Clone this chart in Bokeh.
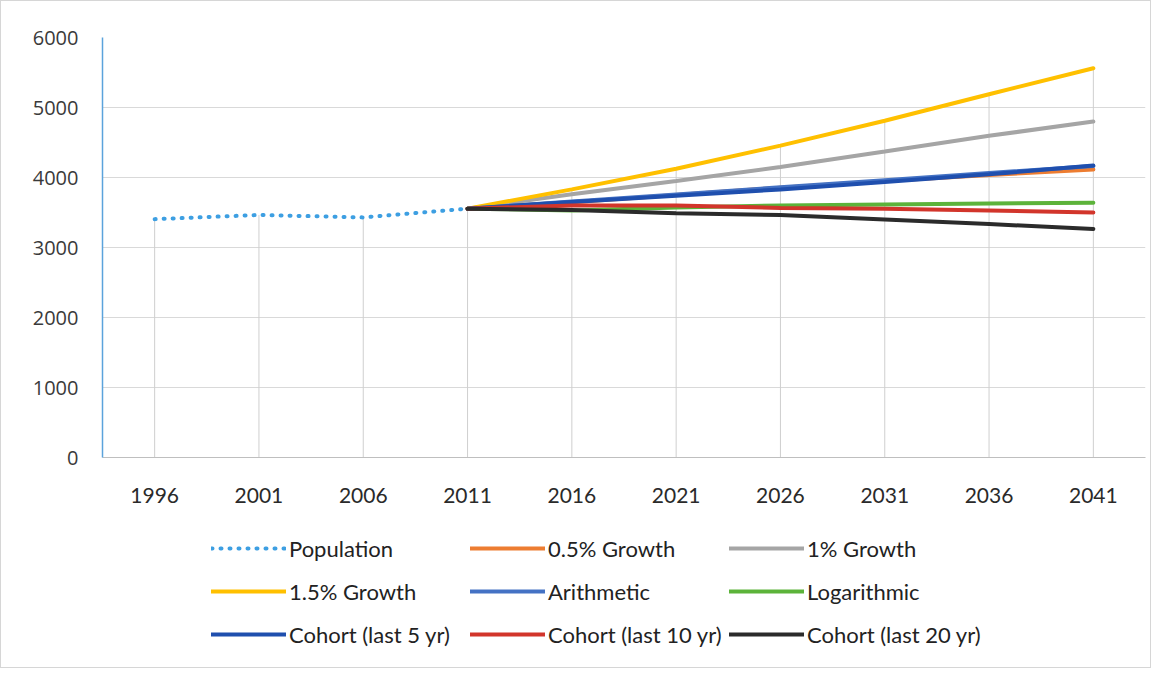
from bokeh.plotting import figure
from bokeh.models import FixedTicker, Legend, LegendItem, FactorRange, Range1d
from bokeh.layouts import column
from bokeh.embed import file_html
from bokeh.resources import INLINE

years = ["1996", "2001", "2006", "2011", "2016", "2021", "2026", "2031", "2036", "2041"]
proj_years = years[3:]

population = [3405, 3465, 3430, 3555]
growth_05 = [3555, 3648, 3750, 3855, 3950, 4035, 4115]
growth_1 = [3555, 3760, 3950, 4150, 4370, 4595, 4800]
growth_15 = [3555, 3830, 4125, 4455, 4810, 5190, 5560]
arithmetic = [3555, 3657, 3758, 3860, 3961, 4063, 4164]
logarithmic = [3555, 3530, 3570, 3600, 3615, 3630, 3640]
cohort_5 = [3555, 3650, 3740, 3830, 3935, 4045, 4170]
cohort_10 = [3555, 3600, 3600, 3565, 3555, 3530, 3500]
cohort_20 = [3555, 3535, 3490, 3465, 3400, 3335, 3265]

y_ticks = [0, 1000, 2000, 3000, 4000, 5000, 6000]

series = [
    ("Population", years[:4], population, "#3D9FE2"),
    ("0.5% Growth", proj_years, growth_05, "#ED7D31"),
    ("1% Growth", proj_years, growth_1, "#A5A5A5"),
    ("1.5% Growth", proj_years, growth_15, "#FFC000"),
    ("Arithmetic", proj_years, arithmetic, "#4472C4"),
    ("Logarithmic", proj_years, logarithmic, "#5CB33A"),
    ("Cohort (last 5 yr)", proj_years, cohort_5, "#1F4FAE"),
    ("Cohort (last 10 yr)", proj_years, cohort_10, "#D2352B"),
    ("Cohort (last 20 yr)", proj_years, cohort_20, "#2B2B2B"),
]

p = figure(
    x_range=FactorRange(factors=years, range_padding=0),
    y_range=Range1d(0, 6000),
    frame_width=1043, frame_height=420,
    min_border_left=101, min_border_right=5, min_border_top=36, min_border_bottom=60,
    output_backend="svg", toolbar_location=None,
    background_fill_color="white", border_fill_color="white",
)
p.outline_line_color = None

p.xgrid.grid_line_color = None
p.ygrid.grid_line_color = "#D9D9D9"
p.ygrid.grid_line_width = 1
p.yaxis.ticker = FixedTicker(ticks=y_ticks)

# drop lines from highest value at each category
tops = {}
for name, xs, ys, col in series:
    for x, y in zip(xs, ys):
        tops[x] = max(tops.get(x, 0), y)
drop_top = [tops[y] for y in years]
p.segment(x0=years, y0=[0] * len(years), x1=years, y1=drop_top,
          line_color="#CFCFCF", line_width=1)

# legend figure (holds the legend below the chart)
p2 = figure(
    x_range=Range1d(0, 1), y_range=Range1d(0, 1),
    frame_width=1149, frame_height=150, min_border=0,
    x_axis_type=None, y_axis_type=None,
    output_backend="svg", toolbar_location=None,
    background_fill_color="white", border_fill_color="white",
)
p2.outline_line_color = None
p2.grid.visible = False

items = []
for name, xs, ys, col in series:
    kw = dict(line_color=col, line_width=4, line_cap="round")
    if name == "Population":
        kw["line_dash"] = "1 8"
    p.line(xs, ys, **kw)
    # legend proxy: lies outside the legend figure's visible range
    r2 = p2.line(x=[-5, -4], y=[-5, -4], **kw)
    items.append(LegendItem(label=name, renderers=[r2]))

p.yaxis.axis_line_color = "#5BA3DC"
p.yaxis.axis_line_width = 1.5
p.yaxis.major_tick_line_color = None
p.yaxis.minor_tick_line_color = None
p.yaxis.major_label_text_font = "Open Sans"
p.yaxis.major_label_text_font_size = "20px"
p.yaxis.major_label_text_color = "#3A3A3A"
p.yaxis.major_label_standoff = 18

p.xaxis.axis_line_color = "#BFBFBF"
p.xaxis.major_tick_line_color = None
p.xaxis.minor_tick_line_color = None
p.xaxis.major_label_text_font = "Lato"
p.xaxis.major_label_text_font_size = "21px"
p.xaxis.major_label_text_color = "#2A2A2A"
p.xaxis.major_label_standoff = 24

legend = Legend(
    items=items, orientation="horizontal", ncols=3,
    location=(210, 15),
    glyph_width=75, glyph_height=36, label_height=36, label_width=174,
    spacing=7, label_standoff=3, padding=0, margin=0,
    label_text_font="Lato", label_text_font_size="22px", label_text_color="#222222",
    border_line_color=None, background_fill_alpha=0,
)
p2.add_layout(legend, "center")

layout = column(p, p2, spacing=0, styles={"border": "1px solid #d6d6d6"})
open("out.html", "w").write(file_html(layout, INLINE))
